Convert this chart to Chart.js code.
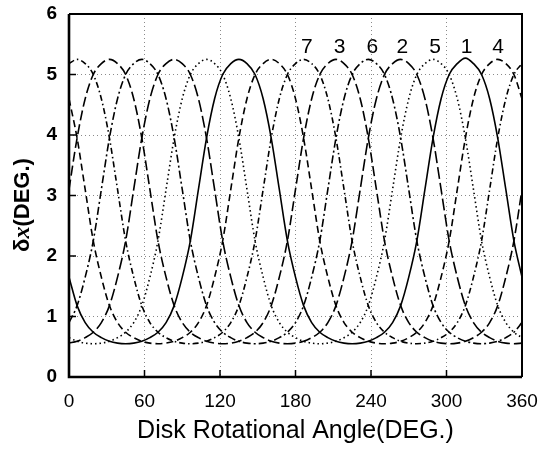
<!DOCTYPE html>
<html>
<head>
<meta charset="utf-8">
<script src="https://cdn.jsdelivr.net/npm/chart.js@4.4.1/dist/chart.umd.min.js"></script>
<style>
  html, body { margin: 0; padding: 0; background: #fff; }
</style>
</head>
<body>
<canvas id="deltaChart" width="549" height="453"></canvas>
<script>
// Disk rotational angle samples (deg)
const angles = [0, 6.43, 12.86, 19.29, 25.71, 32.14, 38.57, 45, 51.43, 57.86, 64.29, 70.71, 77.14, 83.57,
  90, 96.43, 102.86, 109.29, 115.71, 122.14, 128.57, 135, 141.43, 147.86, 154.29, 160.71, 167.14, 173.57,
  180, 186.43, 192.86, 199.29, 205.71, 212.14, 218.57, 225, 231.43, 237.86, 244.29, 250.71, 257.14, 263.57,
  270, 276.43, 282.86, 289.29, 295.71, 302.14, 308.57, 315, 321.43, 327.86, 334.29, 340.71, 347.14, 353.57, 360];

// delta x (deg) for each curve
const curve1 = [1.65,1.18,0.90,0.74,0.65,0.59,0.56,0.55,0.56,0.59,0.65,0.74,0.90,1.18,1.65,2.25,3.10,3.95,4.60,5.00,5.18,
  5.25,5.18,5.00,4.60,3.95,3.10,2.25,1.65,1.18,0.90,0.74,0.65,0.59,0.56,0.55,0.56,0.59,0.65,0.74,0.90,1.18,1.65,2.25,3.10,3.95,4.60,5.00,5.18,
  5.27,5.18,5.00,4.60,3.95,3.10,2.25,1.65];
const curve2 = [0.56,0.59,0.65,0.74,0.90,1.18,1.65,2.25,3.10,3.95,4.60,5.00,5.18,
  5.25,5.18,5.00,4.60,3.95,3.10,2.25,1.65,1.18,0.90,0.74,0.65,0.59,0.56,0.55,0.56,0.59,0.65,0.74,0.90,1.18,1.65,2.25,3.10,3.95,4.60,5.00,5.18,
  5.25,5.18,5.00,4.60,3.95,3.10,2.25,1.65,1.18,0.90,0.74,0.65,0.59,0.56,0.55,0.56];
const curve3 = [3.10,3.95,4.60,5.00,5.18,
  5.25,5.18,5.00,4.60,3.95,3.10,2.25,1.65,1.18,0.90,0.74,0.65,0.59,0.56,0.55,0.56,0.59,0.65,0.74,0.90,1.18,1.65,2.25,3.10,3.95,4.60,5.00,5.18,
  5.25,5.18,5.00,4.60,3.95,3.10,2.25,1.65,1.18,0.90,0.74,0.65,0.59,0.56,0.55,0.56,0.59,0.65,0.74,0.90,1.18,1.65,2.25,3.10];
const curve4 = [4.60,3.95,3.10,2.25,1.65,1.18,0.90,0.74,0.65,0.59,0.56,0.55,0.56,0.59,0.65,0.74,0.90,1.18,1.65,2.25,3.10,3.95,4.60,5.00,5.18,
  5.25,5.18,5.00,4.60,3.95,3.10,2.25,1.65,1.18,0.90,0.74,0.65,0.59,0.56,0.55,0.56,0.59,0.65,0.74,0.90,1.18,1.65,2.25,3.10,3.95,4.60,5.00,5.18,
  5.25,5.18,5.00,4.60];
const curve5 = [0.65,0.59,0.56,0.55,0.56,0.59,0.65,0.74,0.90,1.18,1.65,2.25,3.10,3.95,4.60,5.00,5.18,
  5.25,5.18,5.00,4.60,3.95,3.10,2.25,1.65,1.18,0.90,0.74,0.65,0.59,0.56,0.55,0.56,0.59,0.65,0.74,0.90,1.18,1.65,2.25,3.10,3.95,4.60,5.00,5.18,
  5.25,5.18,5.00,4.60,3.95,3.10,2.25,1.65,1.18,0.90,0.74,0.65];
const curve6 = [0.90,1.18,1.65,2.25,3.10,3.95,4.60,5.00,5.18,
  5.25,5.18,5.00,4.60,3.95,3.10,2.25,1.65,1.18,0.90,0.74,0.65,0.59,0.56,0.55,0.56,0.59,0.65,0.74,0.90,1.18,1.65,2.25,3.10,3.95,4.60,5.00,5.18,
  5.25,5.18,5.00,4.60,3.95,3.10,2.25,1.65,1.18,0.90,0.74,0.65,0.59,0.56,0.55,0.56,0.59,0.65,0.74,0.90];
const curve7 = [5.18,
  5.25,5.18,5.00,4.60,3.95,3.10,2.25,1.65,1.18,0.90,0.74,0.65,0.59,0.56,0.55,0.56,0.59,0.65,0.74,0.90,1.18,1.65,2.25,3.10,3.95,4.60,5.00,5.18,
  5.25,5.18,5.00,4.60,3.95,3.10,2.25,1.65,1.18,0.90,0.74,0.65,0.59,0.56,0.55,0.56,0.59,0.65,0.74,0.90,1.18,1.65,2.25,3.10,3.95,4.60,5.00,5.18];

// Curve number labels above the peaks
const peakLabels = ['7', '3', '6', '2', '5', '1', '4'];
const peakLabelAngles = [189, 215, 241, 265, 291, 316, 341];
const peakLabelValue = 5.45;

const xTicks = [0, 60, 120, 180, 240, 300, 360];
const yTicks = [0, 1, 2, 3, 4, 5, 6];

const curves = [
  { data: curve1, dash: [] },
  { data: curve2, dash: [12, 4] },
  { data: curve3, dash: [10, 4] },
  { data: curve4, dash: [7, 4] },
  { data: curve5, dash: [1.5, 3] },
  { data: curve6, dash: [8, 3, 2, 3] },
  { data: curve7, dash: [6, 3, 1.5, 3] }
];

const FONT = '"Liberation Sans", Arial, sans-serif';

// frame, inward ticks, peak numbers and the y title
const framePlugin = {
  id: 'framePlugin',
  afterDraw(chart) {
    const { ctx, chartArea: { left, right, top, bottom }, scales: { x, y } } = chart;
    ctx.save();
    ctx.strokeStyle = '#000';
    ctx.setLineDash([]);

    ctx.lineWidth = 2;
    ctx.beginPath();
    ctx.moveTo(left, top);
    ctx.lineTo(right, top);
    ctx.lineTo(right, bottom);
    ctx.stroke();
    ctx.lineWidth = 2.6;
    ctx.beginPath();
    ctx.moveTo(left, top);
    ctx.lineTo(left, bottom);
    ctx.lineTo(right, bottom);
    ctx.stroke();

    // short ticks pointing into the plot
    ctx.lineWidth = 1.5;
    ctx.beginPath();
    xTicks.slice(1, -1).forEach(v => {
      const px = x.getPixelForValue(v);
      ctx.moveTo(px, bottom);
      ctx.lineTo(px, bottom - 7);
    });
    yTicks.slice(1, -1).forEach(v => {
      const py = y.getPixelForValue(v);
      ctx.moveTo(left, py);
      ctx.lineTo(left + 7, py);
    });
    ctx.stroke();

    ctx.fillStyle = '#000';
    ctx.font = '21px ' + FONT;
    ctx.textAlign = 'center';
    ctx.textBaseline = 'middle';
    peakLabels.forEach((txt, i) => {
      ctx.fillText(txt, x.getPixelForValue(peakLabelAngles[i]), y.getPixelForValue(peakLabelValue));
    });

    // y title: δx(DEG.) with italic x
    const parts = [
      { t: 'δ', f: 'bold 22px ' + FONT },
      { t: 'x', f: 'bold italic 24px "Liberation Serif", "Times New Roman", serif' },
      { t: '(DEG.)', f: 'bold 22px ' + FONT }
    ];
    let total = 0;
    parts.forEach(p => { ctx.font = p.f; p.w = ctx.measureText(p.t).width; total += p.w; });
    ctx.translate(23, 205);
    ctx.rotate(-Math.PI / 2);
    ctx.textAlign = 'left';
    let pos = -total / 2;
    parts.forEach(p => {
      ctx.font = p.f;
      ctx.fillText(p.t, pos, 0);
      pos += p.w;
    });
    ctx.restore();
  }
};

new Chart(document.getElementById('deltaChart').getContext('2d'), {
  type: 'line',
  data: {
    datasets: curves.map((c, i) => ({
      label: 'curve ' + (i + 1),
      data: angles.map((a, k) => ({ x: a, y: c.data[k] })),
      borderColor: '#000',
      borderWidth: 1.6,
      borderDash: c.dash,
      pointRadius: 0,
      fill: false,
      cubicInterpolationMode: 'monotone'
    }))
  },
  options: {
    responsive: false,
    animation: false,
    layout: { padding: { left: 0, top: 14, right: 27, bottom: 0 } },
    plugins: {
      legend: { display: false },
      tooltip: { enabled: false }
    },
    scales: {
      x: {
        type: 'linear',
        min: 0,
        max: 360,
        afterFit: s => { s.height = 76; s.paddingLeft = 0; s.paddingRight = 0; },
        afterBuildTicks: s => { s.ticks = xTicks.map(v => ({ value: v })); },
        ticks: { color: '#000', font: { family: FONT, size: 19 }, padding: 13, maxRotation: 0 },
        grid: { color: '#8a8a8a', lineWidth: 1, drawTicks: false },
        border: { display: false, dash: [1, 3] },
        title: {
          display: true,
          text: 'Disk Rotational Angle(DEG.)',
          color: '#000',
          font: { family: FONT, size: 25 },
          padding: { top: 0, bottom: 7 }
        }
      },
      y: {
        min: 0,
        max: 6,
        afterFit: s => { s.width = 69; s.paddingTop = 0; s.paddingBottom = 0; },
        afterBuildTicks: s => { s.ticks = yTicks.map(v => ({ value: v })); },
        ticks: { color: '#000', font: { family: FONT, size: 19, weight: 'bold' }, padding: 12 },
        grid: { color: '#8a8a8a', lineWidth: 1, drawTicks: false },
        border: { display: false, dash: [1, 3] }
      }
    }
  },
  plugins: [framePlugin]
});
</script>
</body>
</html>
